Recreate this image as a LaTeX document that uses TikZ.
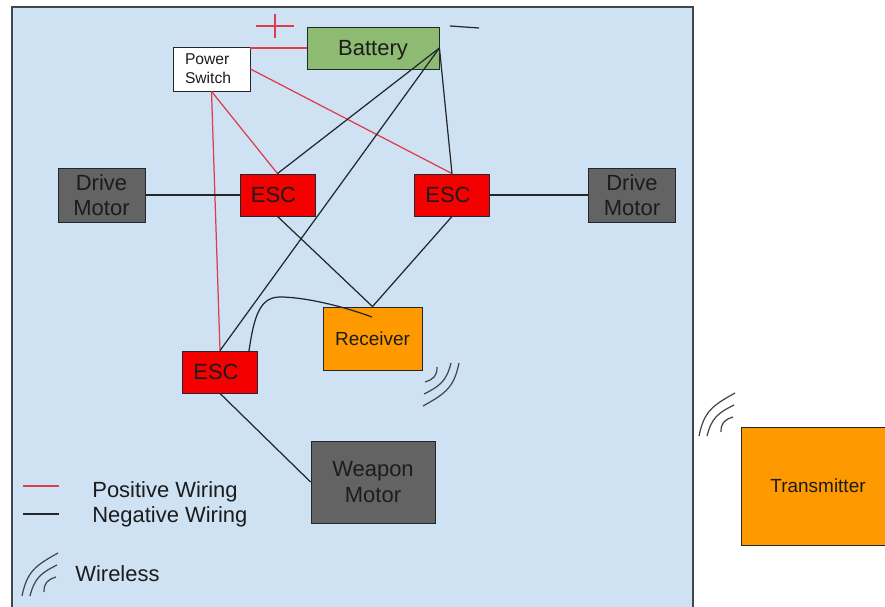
\documentclass[tikz,border=0pt]{standalone}
\usepackage{fontspec}
\setmainfont{Liberation Sans}
\usetikzlibrary{positioning}
\definecolor{panelblue}{HTML}{CFE2F3}
\definecolor{batgreen}{HTML}{8DBB72}
\definecolor{motorgrey}{HTML}{636363}
\definecolor{escred}{HTML}{F50000}
\definecolor{rxorange}{HTML}{FF9900}
\definecolor{posred}{HTML}{DE3C4A}
\definecolor{negdark}{HTML}{22272C}
\definecolor{inktext}{HTML}{1C1C1C}
\tikzset{
  font=\fontsize{12.5}{14.5}\selectfont,
  box/.style={
    draw=#1, line width=0.5pt, align=center, inner sep=0pt, text=inktext
  },
  box/.default=negdark,
  motor/.style={box, fill=motorgrey, minimum width=1.74cm, minimum height=1.08cm},
  escbox/.style={
    draw=negdark, line width=0.5pt, inner sep=0pt, text=inktext, fill=escred,
    minimum width=1.5cm, minimum height=0.84cm,
    execute at end node=\kern0.16cm
  },
  smalltext/.style={font=\fontsize{10.8}{13}\selectfont},
  lab/.style={text=inktext, anchor=west, inner sep=0pt},
  poswire/.style={draw=posred, line width=0.7pt},
  negwire/.style={draw=negdark, line width=0.7pt},
  wireless/.pic={
    \draw[negdark!85, line width=0.7pt] (0,0) .. controls (0.1,0.48) and (0.25,0.6) .. (0.72,0.86);
    \draw[negdark!85, line width=0.7pt] (0.16,0) .. controls (0.25,0.36) and (0.38,0.46) .. (0.70,0.62);
    \draw[negdark!85, line width=0.7pt] (0.44,0.08) .. controls (0.44,0.26) and (0.5,0.32) .. (0.68,0.38);
  }
}
\begin{document}
\begin{tikzpicture}
  \useasboundingbox (0,0) rectangle (17.7,12.12);
  \fill[white] (0,0) rectangle (17.7,12.12);
  \filldraw[fill=panelblue, draw=negdark!85, line width=0.7pt] (0.24,-0.5) rectangle (13.86,11.98);

  % boxes
  \node[box, fill=batgreen, minimum width=2.64cm, minimum height=0.84cm, text depth=0pt] (battery) at (7.46,11.16) {Battery};
  \node[box, fill=white, minimum width=1.54cm, minimum height=0.88cm, text width=1.06cm, align=left,
    font=\fontsize{8.9}{10.8}\selectfont] (switch) at (4.23,10.74) {Power\\Switch};
  \node[motor] (driveL) at (2.03,8.22) {Drive\\Motor};
  \node[motor] (driveR) at (12.64,8.22) {Drive\\Motor};
  \node[escbox] (escL) at (5.55,8.22) {ESC};
  \node[escbox] (escR) at (9.04,8.22) {ESC};
  \node[escbox] (escW) at (4.40,4.68) {ESC};
  \node[box, fill=rxorange, minimum width=1.98cm, minimum height=1.26cm, smalltext] (receiver) at (7.45,5.35) {Receiver};
  \node[box, fill=motorgrey, minimum width=2.48cm, minimum height=1.64cm] (weapon) at (7.46,2.48) {Weapon\\Motor};
  \node[box, fill=rxorange, minimum width=3.08cm, minimum height=2.36cm, smalltext] (transmitter) at (16.36,2.40) {Transmitter};

  % positive side
  \draw[poswire] (battery.west) -- (battery.west -| switch.east);
  \draw[poswire] (switch.east) -- (escR.north);
  \draw[poswire] (switch.south) -- (escL.north);
  \draw[poswire] (switch.south) -- (escW.north);

  % negative side
  \draw[negwire] (battery.east) -- (escL.north);
  \draw[negwire] (battery.east) -- (escR.north);
  \draw[negwire] (battery.east) -- (escW.north);
  \draw[negwire] (driveL) -- (escL);
  \draw[negwire] (escR) -- (driveR);
  \draw[negwire] (escL.south) -- (receiver.north);
  \draw[negwire] (escR.south) -- (receiver.north);
  \draw[negwire] (escW.south) -- (weapon.west);
  \coordinate (sigfrom) at (4.98,5.10);
  \coordinate (sigto) at (7.44,5.78);
  \draw[negwire] (sigfrom) .. controls (5.08,5.8) and (5.2,6.18) .. (5.6,6.18)
    .. controls (6.0,6.18) and (6.7,6.05) .. (sigto);

  % plus and minus marks
  \draw[posred, line width=0.7pt] (5.12,11.6) -- (5.88,11.6);
  \draw[posred, line width=0.7pt] (5.5,11.84) -- (5.5,11.36);
  \draw[negdark, line width=0.7pt] (9.0,11.6) -- (9.58,11.56);

  % wireless marks
  \pic at (13.98,3.40) {wireless};
  \pic[rotate=180] at (9.18,4.86) {wireless};
  \pic at (0.44,0.2) {wireless};

  % legend
  \coordinate (posA) at (0.46,2.40);
  \coordinate (posB) at (1.18,2.40);
  \coordinate (negA) at (0.46,1.84);
  \coordinate (negB) at (1.18,1.84);
  \draw[poswire] (posA) -- (posB);
  \draw[negwire] (negA) -- (negB);
  \node[lab] (poslab) at (1.84,2.28) {Positive Wiring};
  \node[lab] (neglab) at (1.84,1.78) {Negative Wiring};
  \node[lab] (wirelab) at (1.5,0.64) {Wireless};
\end{tikzpicture}
\end{document}
